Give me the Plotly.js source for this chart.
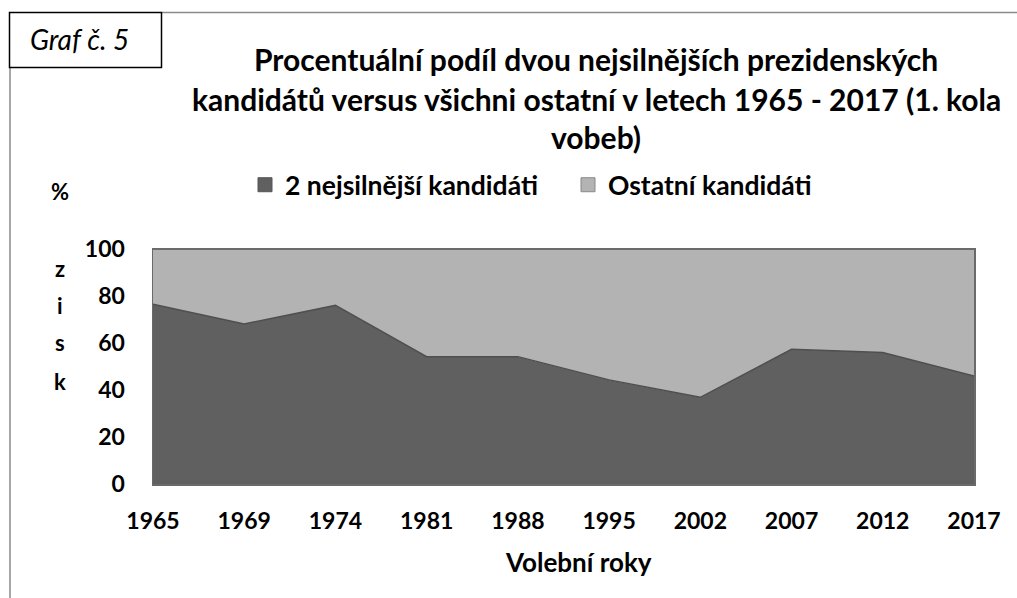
<!DOCTYPE html>
<html>
<head>
<meta charset="utf-8">
<script src="https://cdn.plot.ly/plotly-3.0.1.min.js"></script>
<style>html,body{margin:0;padding:0;background:#fff;}#chart{width:1017px;height:598px;}</style>
</head>
<body>
<div id="chart"></div>
<script>
const years = ["1965","1969","1974","1981","1988","1995","2002","2007","2012","2017"];
const topTwo = [76.5, 68.1, 76.0, 54.2, 54.2, 44.3, 36.9, 57.3, 56.0, 46.0];
const others = [23.5, 31.9, 24.0, 45.8, 45.8, 55.7, 63.1, 42.7, 44.0, 54.0];
const seriesNames = ["2 nejsilnější kandidáti", "Ostatní kandidáti"];
const yTicks = [0, 20, 40, 60, 80, 100];
const titleLines = ["Procentuální podíl dvou nejsilnějších prezidenských",
  "kandidátů versus všichni ostatní v letech 1965 - 2017 (1. kola",
  "vobeb)"];
const yLabelChars = ["%", "z", "i", "s", "k"];

const W = 1017, H = 598;
const ml = 153, mr = W - 974, mt = 249, mb = H - 484;
const pw = W - ml - mr, ph = H - mt - mb;
const px = v => (v - ml) / pw;
const py = v => (H - mb - v) / ph;
const FONT = "Lato, 'Open Sans', sans-serif";
const DARK = "#606060", LIGHT = "#b3b3b3";

const traces = [
  {x: years, y: topTwo, name: seriesNames[0], type: "scatter", mode: "lines",
   stackgroup: "one", fillcolor: DARK, line: {color: "#4f4f4f", width: 1.5}, showlegend: false},
  {x: years, y: others, name: seriesNames[1], type: "scatter", mode: "lines",
   stackgroup: "one", fillcolor: LIGHT, line: {color: "#555555", width: 1.5}, showlegend: false},
  {x: [null], y: [null], name: seriesNames[0], type: "scatter", mode: "markers",
   marker: {symbol: "square", size: 14, color: DARK, line: {color: "#555", width: 1}}, hoverinfo: "skip"},
  {x: [null], y: [null], name: seriesNames[1], type: "scatter", mode: "markers",
   marker: {symbol: "square", size: 14, color: LIGHT, line: {color: "#888", width: 1}}, hoverinfo: "skip"}
];

const annotations = [];
annotations.push({xref: "paper", yref: "paper", x: px(79), y: py(39), xanchor: "center", yanchor: "middle",
  text: "<i>Graf č. 5</i>", showarrow: false, font: {family: FONT, size: 28, color: "#000"}});
const titleY = [59, 99, 137];
titleLines.forEach((t, i) => annotations.push({xref: "paper", yref: "paper", x: px(596), y: py(titleY[i]),
  xanchor: "center", yanchor: "middle", text: "<b>" + t + "</b>", showarrow: false,
  font: {family: FONT, size: 30, color: "#000"}}));
const yl = [191, 268, 305, 342, 381];
yLabelChars.forEach((c, i) => annotations.push({xref: "paper", yref: "paper", x: px(60), y: py(yl[i]),
  xanchor: "center", yanchor: "middle", text: "<b>" + c + "</b>", showarrow: false,
  font: {family: FONT, size: 22, color: "#000"}}));
annotations.push({xref: "paper", yref: "paper", x: px(578), y: py(562), xanchor: "center", yanchor: "middle",
  text: "<b>Volební roky</b>", showarrow: false, font: {family: FONT, size: 26, color: "#000"}});

const shapes = [
  {type: "line", xref: "paper", yref: "paper", x0: px(162), x1: px(1017), y0: py(12.5), y1: py(12.5),
   line: {color: "#8a8a8a", width: 1.5}},
  {type: "line", xref: "paper", yref: "paper", x0: px(10), x1: px(10), y0: py(68), y1: py(598),
   line: {color: "#8a8a8a", width: 1.5}},
  {type: "rect", xref: "paper", yref: "paper", x0: px(9.5), x1: px(161.5), y0: py(12.5), y1: py(67.5),
   line: {color: "#000", width: 1.5}, fillcolor: "rgba(0,0,0,0)"}
];

const layout = {
  width: W, height: H,
  margin: {l: ml, r: mr, t: mt, b: mb, pad: 0},
  paper_bgcolor: "#fff", plot_bgcolor: "#fff",
  font: {family: FONT, color: "#000"},
  showlegend: true,
  legend: {orientation: "h", traceorder: "normal", x: px(245), y: py(185), xanchor: "left", yanchor: "middle",
    font: {family: FONT, size: 26.5, color: "#000", weight: "bold"}, itemwidth: 30, tracegroupgap: 0,
    entrywidthmode: "pixels", entrywidth: 278, bgcolor: "rgba(0,0,0,0)"},
  xaxis: {type: "category", range: [0, 9], showgrid: false, zeroline: false,
    showline: true, mirror: true, linecolor: "#6a6a6a", linewidth: 1.5, ticks: "",
    tickfont: {family: FONT, size: 23, color: "#000", weight: "bold"}, ticklabelstandoff: 16, fixedrange: true},
  yaxis: {range: [0, 100], tickvals: yTicks, showgrid: false, zeroline: false,
    showline: true, mirror: true, linecolor: "#6a6a6a", linewidth: 1.5, ticks: "",
    tickfont: {family: FONT, size: 23, color: "#000", weight: "bold"}, ticklabelstandoff: 22, fixedrange: true},
  annotations: annotations,
  shapes: shapes
};

Plotly.newPlot("chart", traces, layout, {displayModeBar: false, staticPlot: true});
</script>
</body>
</html>
